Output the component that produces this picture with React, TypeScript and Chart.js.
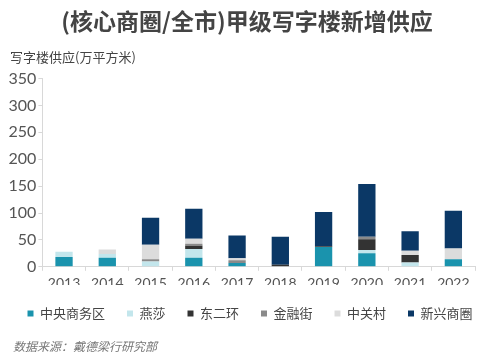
import React, { useEffect, useRef } from "react";
import { Chart, registerables } from "chart.js";

Chart.register(...registerables);

const years = ["2013", "2014", "2015", "2016", "2017", "2018", "2019", "2020", "2021", "2022"];
const cbd = [18, 17, 0, 17, 7, 0, 37, 25, 0, 14];
const yansha = [10, 7, 10, 16, 0, 0, 0, 6, 8, 0];
const east2 = [0, 0, 0, 6, 0, 4, 1, 20, 14, 0];
const finStreet = [0, 0, 4, 4, 5, 0, 0, 5, 0, 0];
const zgc = [0, 8, 27, 9, 4, 0, 0, 0, 8, 20];
const emerging = [0, 0, 50, 56, 42, 52, 64, 98, 36, 70];

const seriesNames = ["中央商务区", "燕莎", "东二环", "金融街", "中关村", "新兴商圈"];
const seriesColors = ["#1a93ad", "#c3e6ec", "#333333", "#8a8a8a", "#dcdcdc", "#0b3866"];
const yTicks = [0, 50, 100, 150, 200, 250, 300, 350];

const titleText = "(核心商圈/全市)甲级写字楼新增供应";
const unitText = "写字楼供应(万平方米)";
const sourceText = "数据来源：戴德梁行研究部";

const FONT = "Lato, 'Noto Sans CJK SC', sans-serif";
const CJK = "'Noto Sans CJK SC', sans-serif";

export default function App() {
  const ref = useRef<HTMLCanvasElement | null>(null);
  useEffect(() => {
    document.body.style.margin = "0";
    const values = [cbd, yansha, east2, finStreet, zgc, emerging];
    const textPlugin = {
      id: "texts",
      afterDraw(chart: any) {
        const ctx = chart.ctx;
        ctx.save();
        ctx.textBaseline = "middle";
        ctx.font = "bold 23px " + CJK;
        ctx.fillStyle = "#444";
        ctx.textAlign = "center";
        ctx.fillText(titleText, 247, 21);
        ctx.font = "13px " + CJK;
        ctx.textAlign = "left";
        ctx.fillStyle = "#444";
        ctx.fillText(unitText, 10, 57);
        ctx.font = "italic 12px " + CJK;
        ctx.fillStyle = "#777";
        ctx.fillText(sourceText, 13, 346);
        ctx.restore();
      },
    };
    const chart = new Chart(ref.current as HTMLCanvasElement, {
      type: "bar",
      data: {
        labels: years,
        datasets: seriesNames.map((n, i) => ({
          label: n,
          data: values[i],
          backgroundColor: seriesColors[i],
          borderWidth: 0,
          barPercentage: 0.4,
          categoryPercentage: 1,
        })),
      },
      options: {
        animation: false,
        responsive: false,
        maintainAspectRatio: false,
        layout: { padding: { left: 0, right: 0, top: 78.5, bottom: 26 } },
        plugins: {
          title: { display: false },
          legend: {
            position: "bottom",
            labels: {
              boxWidth: 6,
              boxHeight: 6,
              padding: 22,
              color: "#444",
              font: { family: CJK, size: 13 },
            },
          },
          tooltip: { enabled: false },
        },
        scales: {
          x: {
            stacked: true,
            afterFit: (s: any) => {
              s.height = 18.2;
            },
            grid: { display: true, drawOnChartArea: false, color: "#d8d8d8", tickLength: 4, offset: true },
            border: { color: "#d8d8d8" },
            ticks: { color: "#555", font: { family: FONT, size: 14 }, padding: 4.6, maxRotation: 0 },
          },
          y: {
            stacked: true,
            min: 0,
            max: 350,
            afterFit: (s: any) => {
              s.width = 42.4;
            },
            afterBuildTicks: (axis: any) => {
              axis.ticks = yTicks.map((v) => ({ value: v }));
            },
            grid: { display: true, drawOnChartArea: false, color: "#d8d8d8", tickLength: 4 },
            border: { color: "#d8d8d8" },
            ticks: { color: "#555", font: { family: FONT, size: 16 }, padding: 2 },
          },
          yRight: {
            type: "linear",
            position: "right",
            afterFit: (s: any) => {
              s.width = 25;
            },
            grid: { display: false },
            border: { display: false },
            ticks: { display: false },
          },
        },
      },
      plugins: [textPlugin],
    } as any);
    return () => chart.destroy();
  }, []);
  return (
    <div style={{ position: "relative", width: 500, height: 356 }}>
      <canvas ref={ref} width={500} height={356} style={{ display: "block" }} />
    </div>
  );
}
